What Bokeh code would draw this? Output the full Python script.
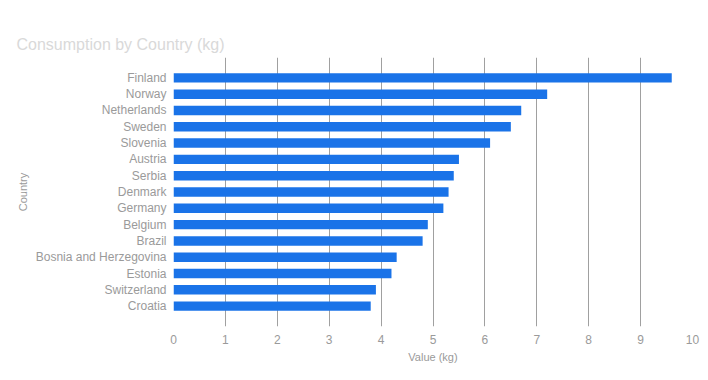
from bokeh.plotting import figure
from bokeh.models import FactorRange, Range1d, FixedTicker, ColumnDataSource, Title
from bokeh.embed import file_html
from bokeh.resources import INLINE

countries = ["Finland", "Norway", "Netherlands", "Sweden", "Slovenia", "Austria",
             "Serbia", "Denmark", "Germany", "Belgium", "Brazil",
             "Bosnia and Herzegovina", "Estonia", "Switzerland", "Croatia"]
values = [9.6, 7.2, 6.7, 6.5, 6.1, 5.5, 5.4, 5.3, 5.2, 4.9, 4.8, 4.3, 4.2, 3.9, 3.8]
x_ticks = [0, 1, 2, 3, 4, 5, 6, 7, 8, 9, 10]
title_text = "Consumption by Country (kg)"
x_title = "Value (kg)"
y_title = "Country"

FONT = "Liberation Sans"
LABEL_COLOR = "#9a9a9a"

src = ColumnDataSource(dict(country=countries, value=values))

yr = FactorRange(factors=list(reversed(countries)))
yr.range_padding = 0.75
yr.range_padding_units = "absolute"

p = figure(title=None, width=700, height=372, output_backend="svg", toolbar_location=None,
           y_range=yr, x_range=Range1d(0, 10),
           min_border_left=173, min_border_right=8, min_border_top=57, min_border_bottom=46)

p.hbar(y="country", right="value", left=0, height=0.58, source=src,
       color="#1a73e8", line_color=None)

# real title added first (ends up outermost), invisible spacer second (next to the frame)
p.add_layout(Title(text=title_text, text_font=FONT, text_font_size="16px",
                   text_font_style="normal", text_color="#d9d9d9", align="left",
                   offset=-157, standoff=10), "above")
p.add_layout(Title(text=".", text_font_size="1px", text_alpha=0, standoff=18), "above")

p.outline_line_color = None
p.background_fill_color = "white"
p.border_fill_color = "white"

p.xaxis.ticker = FixedTicker(ticks=x_ticks)
p.xgrid.ticker = FixedTicker(ticks=x_ticks)
p.xgrid.grid_line_color = "#a0a0a0"
p.xgrid.grid_line_width = 1
p.ygrid.grid_line_color = None

for ax in (p.xaxis, p.yaxis):
    ax.axis_line_color = None
    ax.major_tick_line_color = None
    ax.minor_tick_line_color = None
    ax.major_label_text_font = FONT
    ax.major_label_text_font_size = "12px"
    ax.major_label_text_color = LABEL_COLOR
    ax.axis_label_text_font = FONT
    ax.axis_label_text_font_size = "11px"
    ax.axis_label_text_font_style = "normal"
    ax.axis_label_text_color = LABEL_COLOR

p.xaxis.axis_label = x_title
p.yaxis.axis_label = y_title
p.xaxis.major_label_standoff = 2
p.xaxis.axis_label_standoff = 4
p.yaxis.major_label_standoff = 1
p.yaxis.axis_label_standoff = 4

open("out.html", "w").write(file_html(p, INLINE))
